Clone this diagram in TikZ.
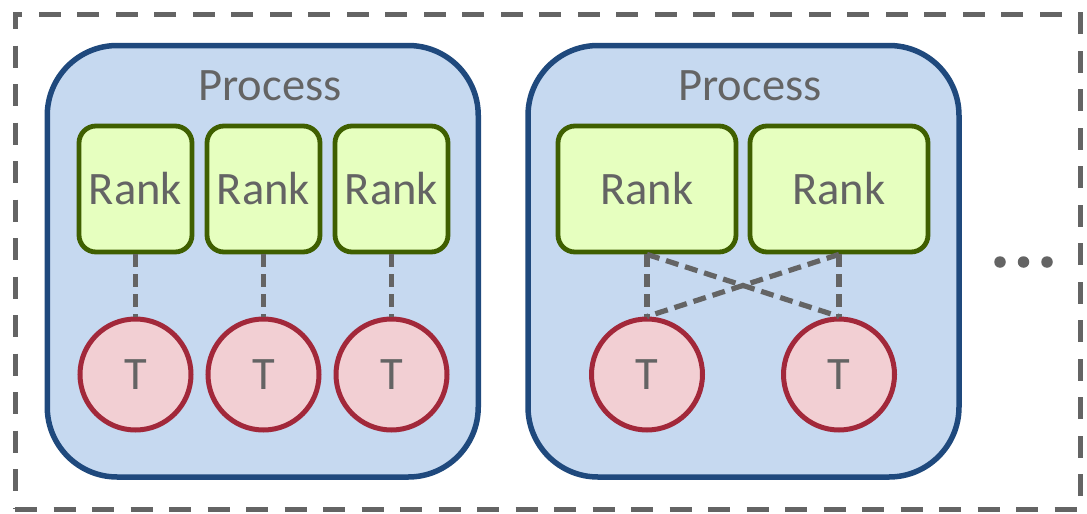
\documentclass[tikz,border=0pt]{standalone}
\usepackage{fontspec}
\setmainfont{Carlito}
\definecolor{labelgray}{HTML}{646464}
\definecolor{procfill}{HTML}{C6D9F0}
\definecolor{procline}{HTML}{1F497D}
\definecolor{rankfill}{HTML}{E6FFBF}
\definecolor{rankline}{HTML}{3F5F00}
\definecolor{thrfill}{HTML}{F2CFD3}
\definecolor{thrline}{HTML}{A2283A}
\tikzset{
  frame/.style={draw=labelgray, line width=5pt, dash pattern=on 22pt off 16.5pt, inner sep=0pt},
  procbox/.style={draw=procline, fill=procfill, line width=5.5pt, rounded corners=70pt,
    minimum width=431pt, minimum height=431.5pt, inner sep=0pt},
  proclabel/.style={text=labelgray, anchor=base, inner sep=0pt,
    font=\fontsize{46.5}{56}\selectfont},
  rankbox/.style={draw=rankline, fill=rankfill, line width=4.8pt, rounded corners=17pt,
    minimum height=126pt, text=labelgray, text height=30pt, text depth=0pt, inner sep=0pt,
    font=\fontsize{46.5}{56}\selectfont},
  thread/.style={circle, draw=thrline, fill=thrfill, line width=5pt, minimum size=111pt,
    text=labelgray, text height=30pt, text depth=0pt, inner sep=0pt,
    font=\fontsize{46.5}{56}\selectfont},
  link/.style={draw=labelgray, line width=5.2pt, dash pattern=on 13pt off 7pt},
  dot/.style={circle, fill=labelgray, minimum size=11.5pt, inner sep=0pt}
}
\begin{document}
\begin{tikzpicture}[x=1pt, y=-1pt]
  \useasboundingbox (0,0) rectangle (1087,514);

  % outer frame
  \node[frame, minimum width=1065pt, minimum height=495pt] (cluster) at (547.5,261.5) {};

  % two processes
  \node[procbox] (p1) at (262.75,261.25) {};
  \node[procbox] (p2) at (743.5,261.25) {};
  \node[proclabel] (p1label) at (270,100) {Process};
  \node[proclabel] (p2label) at (750,100) {Process};

  % first process: three ranks, one thread each
  \node[rankbox, minimum width=113pt] (r1) at (135.5,189) {Rank};
  \node[rankbox, minimum width=113pt] (r2) at (263.5,189) {Rank};
  \node[rankbox, minimum width=113pt] (r3) at (391.5,189) {Rank};
  \node[thread] (t1) at (135.5,374.5) {T};
  \node[thread] (t2) at (263.5,374.5) {T};
  \node[thread] (t3) at (391.5,374.5) {T};
  \draw[link] (r1.south) -- (t1.north);
  \draw[link] (r2.south) -- (t2.north);
  \draw[link] (r3.south) -- (t3.north);

  % second process: two ranks sharing two threads
  \node[rankbox, minimum width=178pt] (r4) at (647,189) {Rank};
  \node[rankbox, minimum width=178pt] (r5) at (839,189) {Rank};
  \node[thread] (t4) at (647,374.5) {T};
  \node[thread] (t5) at (839,374.5) {T};
  \draw[link] (r4.south) -- (t4.north);
  \draw[link] (r5.south) -- (t5.north);
  \draw[link] (r4.south) -- (t5.north);
  \draw[link] (r5.south) -- (t4.north);

  % more processes follow
  \node[dot] (d1) at (1000,262) {};
  \node[dot] (d2) at (1023.5,262) {};
  \node[dot] (d3) at (1047,262) {};
\end{tikzpicture}
\end{document}
